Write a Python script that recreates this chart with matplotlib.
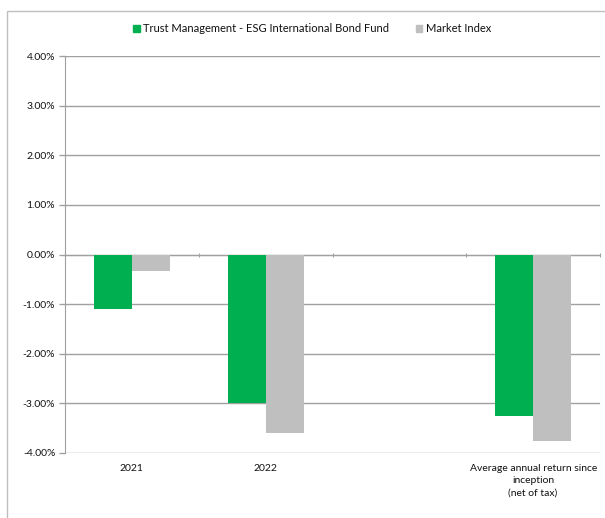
import matplotlib
matplotlib.use("Agg")
import matplotlib.pyplot as plt
from matplotlib.patches import Rectangle
from matplotlib.ticker import FuncFormatter, FixedLocator
import numpy as np

plt.rcParams['font.family'] = ['Lato', 'DejaVu Sans']

# data
categories = ["2021", "2022", "", "Average annual return since\ninception\n(net of tax)"]
fund = [-1.10, -3.00, None, -3.25]
index = [-0.33, -3.60, None, -3.75]
series_names = ["Trust Management - ESG International Bond Fund", "Market Index"]

green = "#00B050"
grey = "#BFBFBF"
line_col = "#A0A0A0"

fig = plt.figure(figsize=(6.05, 5.18), dpi=100)
ax = fig.add_axes([65/605, 1-453/518, (600-65)/605, (453-56)/518])

x = np.arange(len(categories))
w = 0.285
f_vals = [v if v is not None else 0 for v in fund]
i_vals = [v if v is not None else 0 for v in index]
ax.bar(x - w/2, f_vals, w, color=green, zorder=3)
ax.bar(x + w/2, i_vals, w, color=grey, zorder=3)

ax.set_xlim(-0.5, len(categories) - 0.5)
ax.set_ylim(-4, 4)
ax.set_yticks(np.arange(-4, 4.01, 1))
ax.yaxis.set_major_formatter(FuncFormatter(lambda v, p: f"{v:.2f}%"))
ax.yaxis.grid(True, color=line_col, lw=1, zorder=0)
ax.tick_params(axis='y', length=4, color=line_col, labelsize=7.5, pad=3, width=1)

for s in ['top', 'right']:
    ax.spines[s].set_visible(False)
ax.spines['left'].set_color(line_col)
ax.spines['bottom'].set_color(line_col)
ax.spines['bottom'].set_position(('data', 0))
ax.xaxis.set_major_locator(FixedLocator(np.arange(len(categories) + 1) - 0.5))
ax.tick_params(axis='x', length=3, direction='inout', color=line_col, labelbottom=False)

# category labels under the plot area
for xi, lab in zip(x, categories):
    ax.text(xi, -0.027, lab, transform=ax.get_xaxis_transform(), ha='center', va='top',
            fontsize=7.5, linespacing=1.5, color='#111111')

for lab in ax.get_yticklabels():
    lab.set_color('#111111')

handles = [Rectangle((0, 0), 1, 1, color=green), Rectangle((0, 0), 1, 1, color=grey)]
leg = fig.legend(handles, series_names, loc='center', bbox_to_anchor=(312/605, 1-29/518),
                 ncol=2, frameon=False, fontsize=8, handlelength=0.6, handleheight=0.6,
                 handletextpad=0.3, columnspacing=2.4)
for t in leg.get_texts():
    t.set_color('#111111')

fig.add_artist(Rectangle((7/605, -0.1), 1.2, (518-11)/518 + 0.1, transform=fig.transFigure,
                         fill=False, ec="#BFBFBF", lw=1))

fig.savefig("out.png", dpi=100)
